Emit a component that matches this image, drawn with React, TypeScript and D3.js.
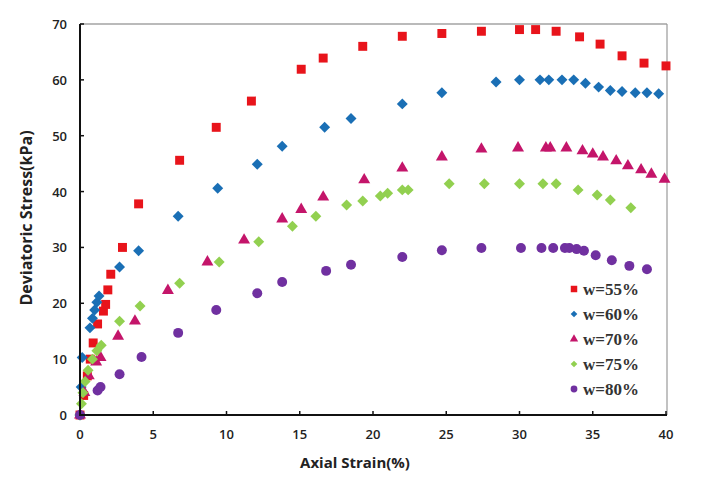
import React from "react";
import * as d3 from "d3";

const xTicks = [0, 5, 10, 15, 20, 25, 30, 35, 40];
const yTicks = [0, 10, 20, 30, 40, 50, 60, 70];

const w55: [number, number][] = [
  [0, 0], [0.25, 3.5], [0.5, 7], [0.7, 10], [0.9, 12.9], [1.2, 16.3], [1.6, 18.6], [1.75, 19.8], [1.9, 22.4], [2.1, 25.2], [2.9, 30.0],
  [4.0, 37.8], [6.8, 45.6], [9.3, 51.5], [11.7, 56.2], [15.1, 61.9], [16.6, 63.9], [19.3, 66.0], [22.0, 67.8], [24.7, 68.3],
  [27.4, 68.7], [30.0, 69.0], [31.1, 69.0], [32.5, 68.7], [34.1, 67.7], [35.5, 66.4], [37.0, 64.3], [38.5, 63.0], [40.0, 62.5],
];
const w60: [number, number][] = [
  [0, 0], [0.08, 5], [0.15, 10.3], [0.68, 15.6], [0.85, 17.3], [1.0, 18.8], [1.15, 20.2], [1.3, 21.3], [2.7, 26.5], [4.0, 29.4],
  [6.7, 35.6], [9.4, 40.6], [12.1, 44.9], [13.8, 48.1], [16.7, 51.5], [18.5, 53.1], [22.0, 55.7], [24.7, 57.7], [28.4, 59.6],
  [30.0, 60.0], [31.4, 60.0], [32.0, 60.0], [32.9, 60.0], [33.7, 60.0], [34.5, 59.4], [35.4, 58.7], [36.2, 58.1], [37.0, 57.9],
  [37.9, 57.7], [38.7, 57.7], [39.5, 57.5],
];
const w70: [number, number][] = [
  [0, 0], [0.3, 4], [0.6, 7], [1.1, 9.5], [1.4, 10.3], [2.6, 14.1], [3.75, 16.8], [6.0, 22.3], [8.7, 27.4], [11.2, 31.3],
  [13.8, 35.1], [15.1, 36.8], [16.6, 39.0], [19.4, 42.1], [22.0, 44.2], [24.7, 46.2], [27.4, 47.6], [29.9, 47.8], [31.8, 47.8],
  [32.1, 47.8], [33.2, 47.8], [34.3, 47.3], [35.0, 46.7], [35.7, 46.2], [36.6, 45.5], [37.4, 44.6], [38.3, 43.9], [39.0, 43.1],
  [39.9, 42.2],
];
const w75: [number, number][] = [
  [0, 0], [0.1, 2], [0.2, 4], [0.35, 6], [0.55, 8], [0.85, 10], [1.15, 11.5], [1.45, 12.5], [2.7, 16.8], [4.1, 19.5], [6.8, 23.6],
  [9.5, 27.4], [12.2, 31.0], [14.5, 33.8], [16.1, 35.6], [18.2, 37.6], [19.3, 38.3], [20.5, 39.2], [21.0, 39.7], [22.0, 40.3],
  [22.4, 40.3], [25.2, 41.4], [27.6, 41.4], [30.0, 41.4], [31.6, 41.4], [32.5, 41.4], [34.0, 40.3], [35.3, 39.4], [36.2, 38.5],
  [37.6, 37.1],
];
const w80: [number, number][] = [
  [0, 0], [1.2, 4.4], [1.4, 5.0], [2.7, 7.3], [4.2, 10.4], [6.7, 14.7], [9.3, 18.8], [12.1, 21.8], [13.8, 23.8], [16.8, 25.8],
  [18.5, 26.9], [22.0, 28.3], [24.7, 29.5], [27.4, 29.9], [30.1, 29.9], [31.5, 29.9], [32.3, 29.9], [33.1, 29.9], [33.4, 29.9],
  [33.9, 29.7], [34.4, 29.4], [35.2, 28.6], [36.3, 27.7], [37.5, 26.7], [38.7, 26.1],
];

const seriesNames = ["w=55%", "w=60%", "w=70%", "w=75%", "w=80%"];
const seriesData = [w55, w60, w70, w75, w80];
const seriesColors = ["#e8141b", "#1a6fb5", "#c4156a", "#92d050", "#7030a0"];

// square diamond (rotated square) symbol type
const symbolSquareDiamond = {
  draw(context: any, size: number) {
    const r = Math.sqrt(size / 2);
    context.moveTo(0, -r);
    context.lineTo(r, 0);
    context.lineTo(0, r);
    context.lineTo(-r, 0);
    context.closePath();
  },
};

const seriesShapes: any[] = [d3.symbolSquare, symbolSquareDiamond, d3.symbolTriangle, symbolSquareDiamond, d3.symbolCircle];
const markerSizes = [80, 60, 62, 60, 78];
const legendSizes = [42, 22, 30, 22, 36];

export default function App() {
  const left = 80, right = 666, top = 24, bottom = 415;
  const x = d3.scaleLinear().domain([0, 40]).range([left, right]);
  const y = d3.scaleLinear().domain([0, 70]).range([bottom, top]);
  const sansFont = "'Open Sans', 'DejaVu Sans', sans-serif";
  const serifFont = "'Liberation Serif', 'Times New Roman', serif";

  return (
    <svg width={704} height={483} style={{ position: "absolute", left: 0, top: 0, background: "#fff" }}>
      <rect x={0} y={0} width={704} height={483} fill="#fff" />
      {/* frame */}
      <line x1={left} y1={top} x2={right + 1} y2={top} stroke="#777" strokeWidth={1.2} />
      <line x1={right + 1} y1={top} x2={right + 1} y2={bottom} stroke="#999" strokeWidth={1.2} />
      {/* ticks */}
      {xTicks.map((t) => (
        <line key={"xt" + t} x1={x(t)} x2={x(t)} y1={bottom} y2={bottom - 4} stroke="#111" strokeWidth={1.5} />
      ))}
      {yTicks.map((t) => (
        <line key={"yt" + t} x1={left} x2={left + 4} y1={y(t)} y2={y(t)} stroke="#111" strokeWidth={1.5} />
      ))}
      {/* data */}
      {seriesData.map((data, i) => {
        const path = d3.symbol().type(seriesShapes[i]).size(markerSizes[i])();
        return (
          <g key={"s" + i}>
            {data.map((d, j) => (
              <path key={j} d={path || ""} transform={`translate(${x(d[0])},${y(d[1])})`} fill={seriesColors[i]} />
            ))}
          </g>
        );
      })}
      {/* axes */}
      <line x1={left} y1={top} x2={left} y2={bottom + 1} stroke="#111" strokeWidth={2} />
      <line x1={left - 1} y1={bottom} x2={right + 1} y2={bottom} stroke="#111" strokeWidth={2} />
      {/* tick labels */}
      {xTicks.map((t) => (
        <text key={"xl" + t} x={x(t)} y={439} textAnchor="middle" fontFamily={sansFont} fontWeight={600} fontSize={13} fill="#222">
          {t}
        </text>
      ))}
      {yTicks.map((t) => (
        <text key={"yl" + t} x={67} y={y(t) + 5} textAnchor="end" fontFamily={sansFont} fontWeight={600} fontSize={13} fill="#222">
          {t}
        </text>
      ))}
      {/* titles */}
      <text x={355} y={468} textAnchor="middle" fontFamily={sansFont} fontWeight={700} fontSize={15} fill="#222">
        Axial Strain(%)
      </text>
      <text transform="translate(32,218) rotate(-90)" textAnchor="middle" fontFamily={sansFont} fontWeight={700} fontSize={16} fill="#222">
        Deviatoric Stress(kPa)
      </text>
      {/* legend */}
      {seriesNames.map((name, i) => {
        const ly = 289 + i * 25;
        const path = d3.symbol().type(seriesShapes[i]).size(legendSizes[i])();
        return (
          <g key={"lg" + i}>
            <path d={path || ""} transform={`translate(574,${ly})`} fill={seriesColors[i]} />
            <text x={583} y={ly + 6} fontFamily={serifFont} fontWeight={700} fontSize={17} fill="#333">
              {name}
            </text>
          </g>
        );
      })}
    </svg>
  );
}
